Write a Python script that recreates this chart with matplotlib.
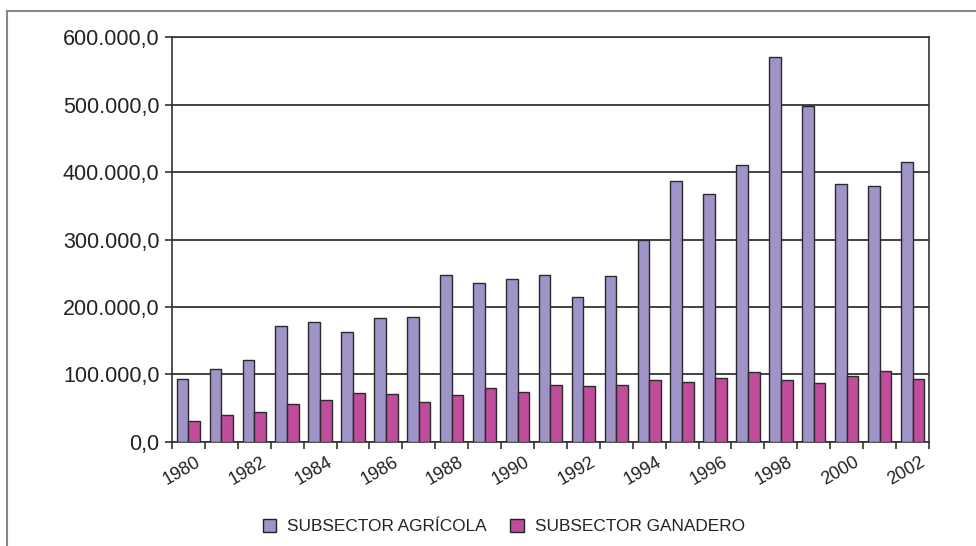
import matplotlib
matplotlib.use("Agg")
import matplotlib.pyplot as plt
from matplotlib.patches import Patch
from matplotlib.lines import Line2D
from matplotlib.ticker import FuncFormatter
import numpy as np

plt.rcParams['font.family'] = ['Liberation Sans', 'DejaVu Sans']

years = list(range(1980, 2003))
agricola = [93000, 108000, 121000, 171000, 177000, 163000, 183000, 185000, 247000,
            236000, 241000, 247000, 214000, 246000, 299000, 387000, 367000, 411000,
            571000, 498000, 383000, 380000, 415000]
ganadero = [31000, 39000, 44000, 56000, 62000, 72000, 71000, 59000, 69000,
            79000, 74000, 84000, 83000, 83500, 92000, 89000, 95000, 103000,
            92000, 87000, 97000, 105000, 93000]
series_names = ['SUBSECTOR AGRÍCOLA', 'SUBSECTOR GANADERO']
colors = ['#A093C7', '#C04C9C']
yticks = [0, 100000, 200000, 300000, 400000, 500000, 600000]

fig = plt.figure(figsize=(9.76, 5.46), dpi=100)
ax = fig.add_axes([0.1762, 0.191, 0.7756, 0.7407])

x = np.arange(len(years))
w = 0.355
ax.bar(x - w / 2, agricola, width=w, color=colors[0], edgecolor='#2a2a2a', linewidth=1.0, zorder=3)
ax.bar(x + w / 2, ganadero, width=w, color=colors[1], edgecolor='#2a2a2a', linewidth=1.0, zorder=3)

ax.set_xlim(-0.5, len(years) - 0.5)
ax.set_ylim(0, 600000)
ax.set_yticks(yticks)

def fmt(v, pos):
    s = f"{int(round(v)):,}".replace(",", ".")
    return s + ",0"
ax.yaxis.set_major_formatter(FuncFormatter(fmt))
ax.yaxis.grid(True, color='#222222', linewidth=1.2, zorder=1)
ax.tick_params(axis='y', labelsize=15.5, length=5, width=1.2, color='#333333', labelcolor='#222222', pad=4)

# x ticks at category boundaries, labels at every other category
ax.set_xticks(np.arange(-0.5, len(years), 1.0))
ax.set_xticklabels([])
ax.tick_params(axis='x', length=5, width=1.2, color='#333333')
for i, yr in enumerate(years):
    if i % 2 == 0:
        ax.text(i + 0.2, -0.03, str(yr), transform=ax.get_xaxis_transform(),
                rotation=30, ha='right', va='top', rotation_mode='anchor',
                fontsize=13, color='#222222')

for s in ax.spines.values():
    s.set_color('#333333')
    s.set_linewidth(1.2)

handles = [Patch(facecolor=colors[0], edgecolor='#222222', linewidth=1.0),
           Patch(facecolor=colors[1], edgecolor='#222222', linewidth=1.0)]
fig.legend(handles, series_names, loc='center', bbox_to_anchor=(0.516, 0.036),
           ncol=2, frameon=False, fontsize=12.4, handlelength=0.8, handleheight=0.8,
           handletextpad=0.6, columnspacing=1.4, labelcolor='#222222')

# outer border (left and top lines)
fig.add_artist(Line2D([7 / 976, 7 / 976], [0, 1 - 11 / 546], color='#888888', linewidth=1.5,
                      transform=fig.transFigure))
fig.add_artist(Line2D([7 / 976, 1], [1 - 11 / 546, 1 - 11 / 546], color='#888888', linewidth=1.5,
                      transform=fig.transFigure))

fig.savefig('out.png', dpi=100)
